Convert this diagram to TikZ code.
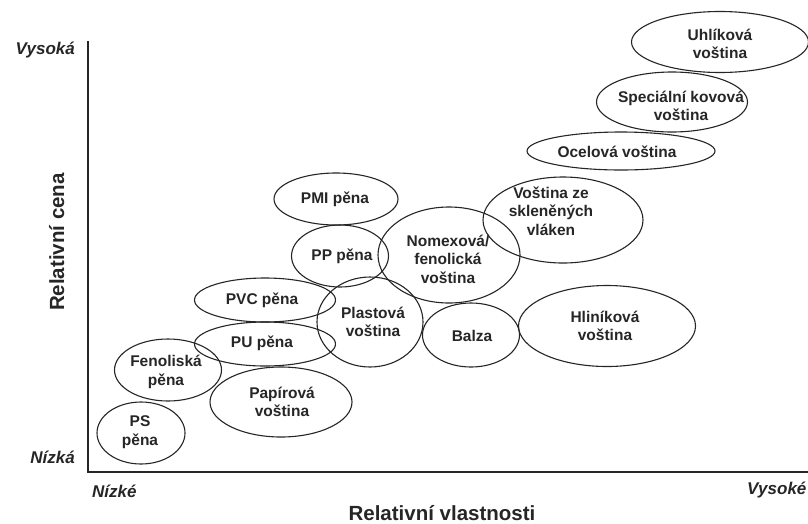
\documentclass[tikz,border=0pt]{standalone}
\usepackage{fontspec}
\setmainfont{Liberation Sans}
\usetikzlibrary{shapes.geometric}
\definecolor{ink}{HTML}{262626}
\begin{document}
\begin{tikzpicture}[x=1pt,y=-1pt,
  ell/.style={draw=ink, line width=1.1pt, ellipse, inner sep=0pt},
  txt/.style={text=ink, font=\fontsize{15.5}{18.5}\selectfont\bfseries, align=center, inner sep=0pt},
  axlab/.style={text=ink, font=\fontsize{20.5}{24}\selectfont\bfseries, inner sep=0pt},
  tick/.style={text=ink, font=\fontsize{17}{20}\selectfont\bfseries\itshape, inner sep=0pt},
  axisline/.style={draw=ink, line width=2.2pt}]
\useasboundingbox (0,0) rectangle (808,523);
\fill[white] (0,0) rectangle (808,523);
% axes
\coordinate (top) at (88,41);
\coordinate (origin) at (88,472);
\coordinate (right) at (810,472);
\draw[axisline] (top) -- (origin) -- (right);
% axis labels
\node[tick, anchor=east] (vys) at (75,50) {Vysoká};
\node[tick, anchor=east] (niz) at (75,457) {Nízká};
\node[tick, anchor=west] (nize) at (92,491) {Nízké};
\node[tick, anchor=west] (vyse) at (747,490) {Vysoké};
\node[axlab, anchor=base] (xl) at (442,520) {Relativní vlastnosti};
\node[axlab, anchor=base, rotate=90] (yl) at (64,242) {Relativní cena};
% ellipses
\node[ell, minimum width=88pt, minimum height=62pt] (ps) at (141,433) {};
\node[txt] at (140,432) {PS\\pěna};
\node[ell, minimum width=107pt, minimum height=62pt] (fen) at (168,370) {};
\node[txt] at (166,372) {Fenoliská\\pěna};
\node[ell, minimum width=141pt, minimum height=44pt] (pu) at (265,344) {};
\node[txt] at (262,343) {PU pěna};
\node[ell, minimum width=141pt, minimum height=44pt] (pvc) at (265,300) {};
\node[txt] at (262,300) {PVC pěna};
\node[ell, minimum width=142pt, minimum height=70pt] (pap) at (281,402) {};
\node[txt] at (282,402) {Papírová\\voština};
\node[ell, minimum width=106pt, minimum height=90pt] (pla) at (370,322) {};
\node[txt] at (373,322) {Plastová\\voština};
\node[ell, minimum width=97pt, minimum height=62pt] (pp) at (340,256) {};
\node[txt] at (342,256) {PP pěna};
\node[ell, minimum width=124pt, minimum height=52pt] (pmi) at (336,199) {};
\node[txt] at (335,199) {PMI pěna};
\node[ell, minimum width=142pt, minimum height=96pt] (nom) at (449,255) {};
\node[txt] at (448,259) {Nomexová/\\fenolická\\voština};
\node[ell, minimum width=97pt, minimum height=64pt] (bal) at (471,335) {};
\node[txt] at (472,336) {Balza};
\node[ell, minimum width=177pt, minimum height=81pt] (hli) at (607,326) {};
\node[txt] at (605,326) {Hliníková\\voština};
\node[ell, minimum width=160pt, minimum height=86pt] (skl) at (563,220) {};
\node[txt] at (551,211) {Voština ze\\skleněných\\vláken};
\node[ell, minimum width=188pt, minimum height=38pt] (oce) at (621,151) {};
\node[txt] at (617,152) {Ocelová voština};
\node[ell, minimum width=151pt, minimum height=60pt] (spe) at (672,102) {};
\node[txt] at (681,106) {Speciální kovová\\voština};
\node[ell, minimum width=177pt, minimum height=61pt] (uhl) at (720,42) {};
\node[txt] at (720,44) {Uhlíková\\voština};
\end{tikzpicture}
\end{document}
